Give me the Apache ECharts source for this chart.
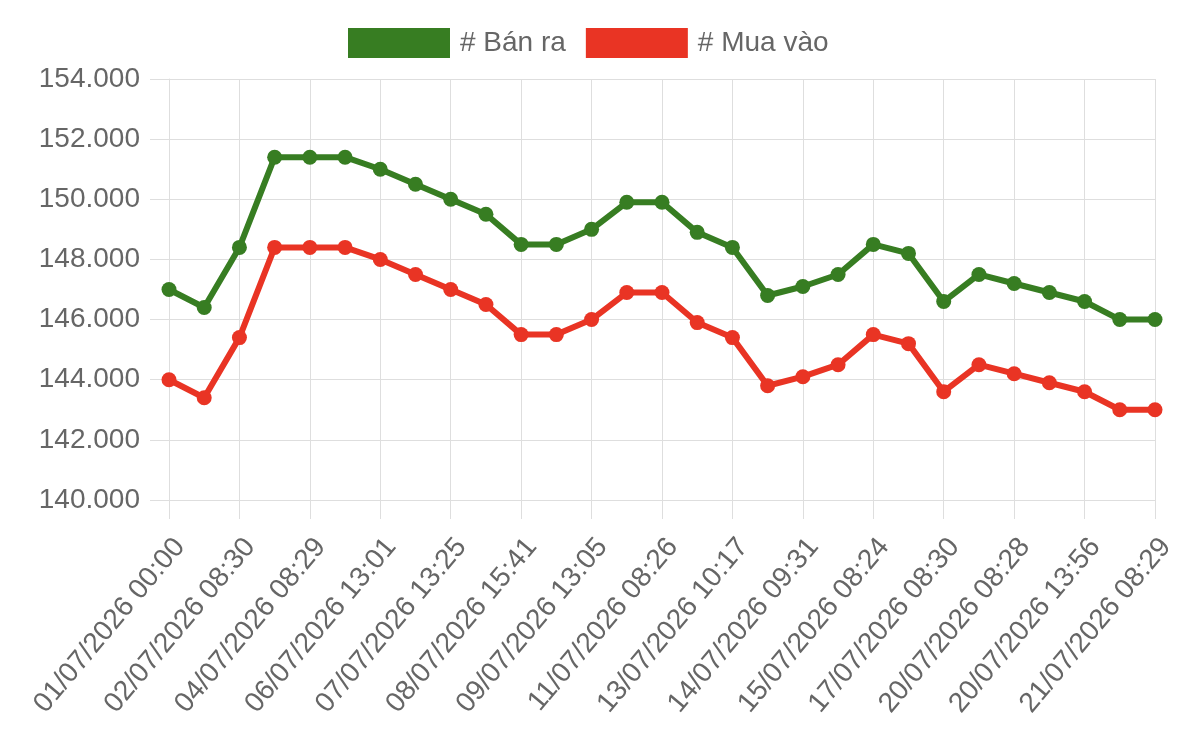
<!DOCTYPE html>
<html>
<head>
<meta charset="utf-8">
<script src="https://cdn.jsdelivr.net/npm/echarts@6/dist/echarts.min.js"></script>
<style>
  html, body { margin: 0; padding: 0; background: #fff; }
  #chart { width: 1200px; height: 741px; }
</style>
</head>
<body>
<div id="chart"></div>
<script>
// nhãn trục x (các nhãn bị ẩn xen kẽ trên hình)
const times = [
  '01/07/2026 00:00', '01/07/2026 13:30', '02/07/2026 08:30', '03/07/2026 08:30',
  '04/07/2026 08:29', '05/07/2026 08:29', '06/07/2026 13:01', '07/07/2026 08:30',
  '07/07/2026 13:25', '08/07/2026 08:30', '08/07/2026 15:41', '09/07/2026 08:30',
  '09/07/2026 13:05', '10/07/2026 08:30', '11/07/2026 08:26', '12/07/2026 08:30',
  '13/07/2026 10:17', '14/07/2026 08:30', '14/07/2026 09:31', '15/07/2026 08:20',
  '15/07/2026 08:24', '16/07/2026 08:30', '17/07/2026 08:30', '18/07/2026 08:30',
  '20/07/2026 08:28', '20/07/2026 10:30', '20/07/2026 13:56', '21/07/2026 08:20',
  '21/07/2026 08:29'
];
const banRa = [
  147000, 146400, 148400, 151400, 151400, 151400, 151000, 150500,
  150000, 149500, 148500, 148500, 149000, 149900, 149900, 148900,
  148400, 146800, 147100, 147500, 148500, 148200, 146600, 147500,
  147200, 146900, 146600, 146000, 146000
];
const muaVao = [
  144000, 143400, 145400, 148400, 148400, 148400, 148000, 147500,
  147000, 146500, 145500, 145500, 146000, 146900, 146900, 145900,
  145400, 143800, 144100, 144500, 145500, 145200, 143600, 144500,
  144200, 143900, 143600, 143000, 143000
];

const FONT = '"Liberation Sans", Arial, sans-serif';
const GRID = '#dedede';

function fmt(v) {
  return String(v).replace(/\B(?=(\d{3})+(?!\d))/g, '.');
}

var myChart = echarts.init(document.getElementById('chart'));
const option = {
  animation: false,
  legend: {
    data: ['# Bán ra', '# Mua vào'],
    left: 343,
    top: 23,
    icon: 'rect',
    itemWidth: 102,
    itemHeight: 30,
    itemGap: 20,
    textStyle: {
      fontFamily: FONT,
      fontSize: 28,
      color: '#666',
      padding: [0, 0, 0, 5],
    },
  },
  grid: {
    left: 169,
    right: 45,
    top: 79,
    bottom: 241,
  },
  xAxis: {
    type: 'category',
    data: times,
    boundaryGap: false,
    axisLine: { lineStyle: { color: GRID, width: 1 } },
    axisTick: { show: true, interval: 1, length: 19, lineStyle: { color: GRID } },
    splitLine: { show: true, interval: 1, lineStyle: { color: GRID, width: 1 } },
    axisLabel: {
      interval: 1,
      rotate: 50,
      margin: 33,
      verticalAlign: 'top',
      fontFamily: FONT,
      fontSize: 28,
      color: '#666',
    },
  },
  yAxis: {
    type: 'value',
    min: 140000,
    max: 154000,
    interval: 2000,
    axisLine: { show: true, lineStyle: { color: GRID, width: 1 } },
    axisTick: { show: true, length: 19, lineStyle: { color: GRID } },
    splitLine: { show: true, lineStyle: { color: GRID, width: 1 } },
    axisLabel: {
      margin: 29,
      formatter: fmt,
      fontFamily: FONT,
      fontSize: 28,
      color: '#666',
    },
  },
  series: [
    {
      name: '# Bán ra',
      type: 'line',
      data: banRa,
      symbol: 'circle',
      symbolSize: 15,
      itemStyle: { color: '#377d22' },
      lineStyle: { color: '#377d22', width: 6 },
    },
    {
      name: '# Mua vào',
      type: 'line',
      data: muaVao,
      symbol: 'circle',
      symbolSize: 15,
      itemStyle: { color: '#e93424' },
      lineStyle: { color: '#e93424', width: 6 },
    },
  ],
};
myChart.setOption(option);
</script>
</body>
</html>
